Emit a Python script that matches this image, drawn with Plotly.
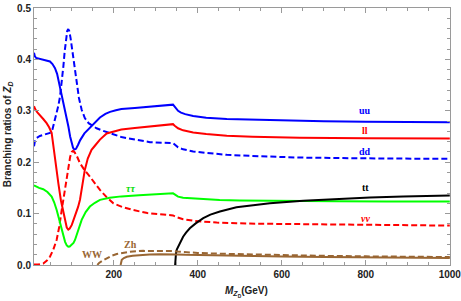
import plotly.graph_objects as go

# ---------------- data ----------------
uu_m = [10, 12, 15, 20, 30, 40, 48, 54, 60, 65, 70, 75, 80, 84, 88, 92, 96, 100, 103, 106, 110, 115, 120, 130, 143, 155, 167, 180, 191, 205, 214, 218, 250, 280, 310, 341, 344, 348, 353, 360, 370, 389, 420, 469, 530, 600, 700, 800, 900, 1000]
uu_v = [0.413, 0.406, 0.403, 0.402, 0.401, 0.399, 0.396, 0.391, 0.383, 0.372, 0.354, 0.336, 0.317, 0.302, 0.287, 0.269, 0.250, 0.235, 0.228, 0.2245, 0.226, 0.234, 0.243, 0.256, 0.267, 0.278, 0.287, 0.294, 0.298, 0.301, 0.3025, 0.3035, 0.3055, 0.3075, 0.3095, 0.312, 0.309, 0.305, 0.300, 0.2965, 0.2935, 0.290, 0.2865, 0.2840, 0.2825, 0.281, 0.2795, 0.2785, 0.278, 0.2775]

ll_m = [10, 13, 18, 24, 32, 40, 46, 52, 57, 62, 68, 74, 80, 84, 88, 91.6, 95, 100, 105, 110, 115, 119.5, 125, 131, 138, 147, 155, 167, 183, 200, 214, 218, 250, 280, 310, 341, 345, 353, 365, 389, 420, 469, 530, 643, 800, 1000]
ll_v = [0.309, 0.303, 0.297, 0.292, 0.284, 0.276, 0.268, 0.257, 0.224, 0.193, 0.159, 0.126, 0.100, 0.084, 0.073, 0.069, 0.071, 0.078, 0.089, 0.100, 0.113, 0.127, 0.155, 0.185, 0.207, 0.224, 0.232, 0.244, 0.256, 0.260, 0.263, 0.2635, 0.2665, 0.269, 0.2715, 0.274, 0.271, 0.266, 0.262, 0.258, 0.255, 0.2515, 0.2495, 0.2476, 0.2465, 0.246]

dd_m = [10, 12, 16, 24, 32, 40, 48, 54, 58, 64, 68, 72, 76, 80, 83, 86, 89, 91.6, 94, 97, 100, 104, 108, 112, 117, 123.5, 131, 140, 159, 175, 191, 214, 218, 250, 286, 341, 345, 353, 365, 389, 420, 469, 550, 643, 800, 1000]
dd_v = [0.231, 0.240, 0.247, 0.251, 0.253, 0.255, 0.257, 0.264, 0.276, 0.296, 0.310, 0.328, 0.355, 0.387, 0.415, 0.439, 0.455, 0.459, 0.455, 0.442, 0.424, 0.398, 0.373, 0.350, 0.325, 0.302, 0.286, 0.276, 0.266, 0.261, 0.257, 0.250, 0.249, 0.244, 0.239, 0.237, 0.234, 0.229, 0.225, 0.221, 0.218, 0.2144, 0.2115, 0.209, 0.2075, 0.2065]

tautau_m = [10, 14, 22, 32, 42, 52, 58, 64, 70, 76, 80, 84, 88, 91.6, 95, 100, 104, 107.6, 115, 123.5, 133, 143, 155, 167, 190, 214, 218, 260, 310, 341, 345, 353, 365, 381, 413, 452, 500, 572, 650, 730, 850, 1000]
tautau_v = [0.155, 0.153, 0.150, 0.1475, 0.142, 0.133, 0.122, 0.107, 0.088, 0.068, 0.055, 0.045, 0.038, 0.0357, 0.036, 0.039, 0.043, 0.0487, 0.067, 0.0877, 0.103, 0.1137, 0.121, 0.1267, 0.131, 0.133, 0.1335, 0.1355, 0.1378, 0.1395, 0.1375, 0.133, 0.131, 0.130, 0.128, 0.1267, 0.1257, 0.1248, 0.1243, 0.1240, 0.1237, 0.1234]

nunu_m = [10, 20, 32, 40, 48, 56, 64, 70, 76, 82, 88, 92, 96, 100, 103, 107, 112, 119.5, 130, 143, 155, 167, 183, 199, 220, 246, 280, 310, 341, 350, 365, 390, 413, 445, 492, 524, 651, 810, 1000]
nunu_v = [0.0008, 0.001, 0.003, 0.008, 0.016, 0.030, 0.049, 0.074, 0.107, 0.140, 0.172, 0.192, 0.210, 0.220, 0.222, 0.219, 0.212, 0.198, 0.185, 0.172, 0.159, 0.146, 0.132, 0.120, 0.113, 0.107, 0.101, 0.0985, 0.0965, 0.093, 0.089, 0.086, 0.0845, 0.0825, 0.0813, 0.0805, 0.0795, 0.078, 0.0767]

tt_m = [346, 346.5, 348, 350, 353, 358, 365, 372, 381, 395, 413, 430, 452.6, 492, 530, 571.6, 651, 730, 810, 889, 1000]
tt_v = [0.0, 0.010, 0.022, 0.030, 0.0357, 0.045, 0.055, 0.063, 0.0715, 0.081, 0.091, 0.098, 0.104, 0.1124, 0.1165, 0.120, 0.1248, 0.1287, 0.1312, 0.1332, 0.135]

ww_m = [160.8, 165, 172, 183, 195, 207, 220, 238.5, 270, 310, 334, 341, 350, 370, 400, 450, 500, 600, 700, 800, 900, 1000]
ww_v = [0.0, 0.004, 0.008, 0.013, 0.018, 0.0214, 0.0238, 0.026, 0.0275, 0.028, 0.0275, 0.0272, 0.0262, 0.0248, 0.0235, 0.022, 0.021, 0.019, 0.0178, 0.0168, 0.016, 0.0155]

zh_m = [216.2, 217, 219, 224, 231, 245, 262, 285, 310, 341, 350, 370, 400, 450, 500, 600, 700, 800, 900, 1000]
zh_v = [0.0, 0.006, 0.010, 0.0135, 0.016, 0.018, 0.0195, 0.0203, 0.0208, 0.0214, 0.0205, 0.0198, 0.0192, 0.0185, 0.0178, 0.0166, 0.0156, 0.0148, 0.0141, 0.0135]

label_text = ["uu", "ll", "dd", "tt", "<i>νν</i>", "<i>ττ</i>", "WW", "Zh"]
label_m = [797, 797, 797, 800, 800, 240, 149, 240]
label_v = [0.300, 0.261, 0.221, 0.1514, 0.0897, 0.1495, 0.0195, 0.040]
label_col = ["#0000FF", "#FF0000", "#0000FF", "#000000", "#FF0000", "#00DD00", "#996633", "#996633"]

x_ticks = [200, 400, 600, 800, 1000]
x_title = "<i>M</i><sub><i>Z</i><sub>D</sub></sub>(GeV)"
y_title = "Branching ratios of <i>Z</i><sub><i>D</i></sub>"

BLUE, RED, GREEN, BLACK, BROWN = "#0000FF", "#FF0000", "#00FF00", "#000000", "#996633"
DASH = "6px,3px"

fig = go.Figure()
series = [
    (uu_m, uu_v, BLUE, "solid"),
    (dd_m, dd_v, BLUE, DASH),
    (ll_m, ll_v, RED, "solid"),
    (nunu_m, nunu_v, RED, DASH),
    (tautau_m, tautau_v, GREEN, "solid"),
    (tt_m, tt_v, BLACK, "solid"),
    (ww_m, ww_v, BROWN, DASH),
    (zh_m, zh_v, BROWN, "solid"),
]
for xs, ys, col, dash in series:
    fig.add_trace(go.Scatter(x=xs, y=ys, mode="lines",
                             line=dict(color=col, width=2, dash=dash),
                             showlegend=False, hoverinfo="skip"))

for t, m, v, c in zip(label_text, label_m, label_v, label_col):
    fig.add_annotation(x=m, y=v, text=t, showarrow=False,
                       font=dict(family="Liberation Serif, Times New Roman, serif",
                                 size=10, color=c, weight="bold"))

SANS = "Liberation Sans, Arial, sans-serif"
fig.add_annotation(xref="paper", yref="paper", x=0.51, y=-0.07, yanchor="top",
                   text=x_title, showarrow=False,
                   font=dict(family=SANS, size=10, color="#222222", weight="bold"))
fig.add_annotation(xref="paper", yref="paper", x=-0.062, y=0.51, textangle=-90,
                   xanchor="center", yanchor="middle",
                   text=y_title, showarrow=False,
                   font=dict(family=SANS, size=10, color="#222222", weight="bold"))

GREY = "#9a9a9a"
tickfont = dict(family=SANS, size=10, color="#222222", weight="bold")
fig.update_layout(
    width=461, height=301,
    margin=dict(l=34, r=11, t=8, b=36, autoexpand=False),
    paper_bgcolor="white", plot_bgcolor="white",
    font=dict(family=SANS, size=10, color="#222222"),
    xaxis=dict(range=[10, 1000.5], tickvals=x_ticks, automargin=False,
               ticklabeloverflow="allow",
               ticks="inside", ticklen=5, tickwidth=1, tickcolor=GREY,
               minor=dict(dtick=50, tick0=0, ticks="inside", ticklen=3, tickcolor=GREY),
               showline=True, linecolor=GREY, linewidth=1, mirror="ticks",
               showgrid=False, zeroline=False, tickfont=tickfont),
    yaxis=dict(range=[0, 0.5], dtick=0.1, tick0=0, tickformat=".1f", automargin=False,
               ticks="inside", ticklen=5, tickwidth=1, tickcolor=GREY,
               minor=dict(dtick=0.02, tick0=0, ticks="inside", ticklen=3, tickcolor=GREY),
               showline=True, linecolor=GREY, linewidth=1, mirror="ticks",
               showgrid=False, zeroline=False, tickfont=tickfont),
)

fig.write_html("out.html", config={"displayModeBar": False},
               post_script="document.body.style.margin='0';")
